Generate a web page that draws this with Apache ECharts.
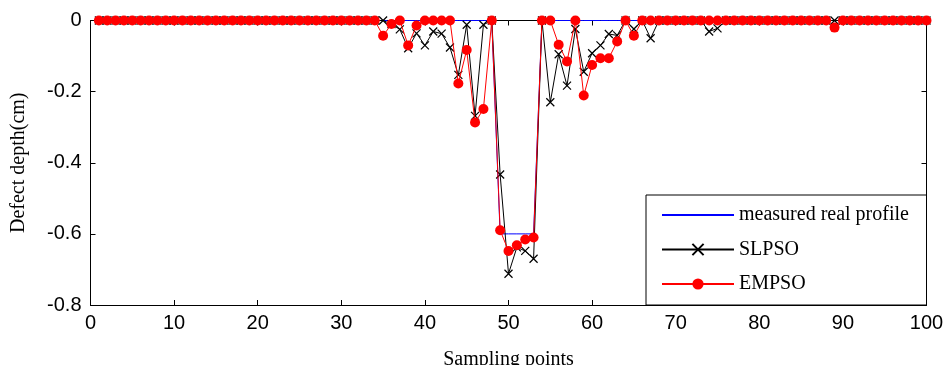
<!DOCTYPE html>
<html>
<head>
<meta charset="utf-8">
<script src="https://cdn.jsdelivr.net/npm/echarts@6/dist/echarts.min.js"></script>
<style>
html,body{margin:0;padding:0;background:#fff;}
#chart{width:947px;height:365px;}
</style>
</head>
<body>
<div id="chart"></div>
<script>
// Sampling points 1..100
var samplingPoints = [
  1,2,3,4,5,6,7,8,9,10,
  11,12,13,14,15,16,17,18,19,20,
  21,22,23,24,25,26,27,28,29,30,
  31,32,33,34,35,36,37,38,39,40,
  41,42,43,44,45,46,47,48,49,50,
  51,52,53,54,55,56,57,58,59,60,
  61,62,63,64,65,66,67,68,69,70,
  71,72,73,74,75,76,77,78,79,80,
  81,82,83,84,85,86,87,88,89,90,
  91,92,93,94,95,96,97,98,99,100
];
var measuredProfile = [
  0,0,0,0,0,0,0,0,0,0,
  0,0,0,0,0,0,0,0,0,0,
  0,0,0,0,0,0,0,0,0,0,
  0,0,0,0,0,0,0,0,0,0,
  0,0,0,0,0,0,0,0,-0.6,-0.6,
  -0.6,-0.6,-0.6,0,0,0,0,0,0,0,
  0,0,0,0,0,0,0,0,0,0,
  0,0,0,0,0,0,0,0,0,0,
  0,0,0,0,0,0,0,0,0,0,
  0,0,0,0,0,0,0,0,0,0
];
var slpso = [
  0,0,0,0,0,0,0,0,0,0,
  0,0,0,0,0,0,0,0,0,0,
  0,0,0,0,0,0,0,0,0,0,
  0,0,0,0,0,-0.01,-0.025,-0.078,-0.036,-0.07,
  -0.031,-0.037,-0.076,-0.153,-0.012,-0.268,-0.012,0,-0.433,-0.712,
  -0.638,-0.648,-0.67,0,-0.23,-0.095,-0.183,-0.024,-0.144,-0.092,
  -0.07,-0.038,-0.042,0,-0.024,0,-0.05,0,0,0,
  0,0,0,-0.031,-0.022,0,0,0,0,0,
  0,0,0,0,0,0,0,0,0,0,
  0,0,0,0,0,0,0,0,0,0
];
var empso = [
  0,0,0,0,0,0,0,0,0,0,
  0,0,0,0,0,0,0,0,0,0,
  0,0,0,0,0,0,0,0,0,0,
  0,0,0,0,-0.043,-0.01,0,-0.07,-0.014,0,
  0,0,0,-0.177,-0.083,-0.287,-0.249,0,-0.59,-0.648,
  -0.632,-0.616,-0.61,0,0,-0.068,-0.115,0,-0.211,-0.125,
  -0.106,-0.106,-0.059,0,-0.043,0,0,0,0,0,
  0,0,0,0,0,0,0,0,0,0,
  0,0,0,0,0,0,0,0,-0.02,0,
  0,0,0,0,0,0,0,0,0,0
];
var seriesNames = ['measured real profile', 'SLPSO', 'EMPSO'];
var xAxisName = 'Sampling points';
var yAxisName = 'Defect depth(cm)';

function pairs(ys){ return samplingPoints.map(function(x,i){ return [x, ys[i]]; }); }

var chart = echarts.init(document.getElementById('chart'), null, {renderer:'canvas'});
var sansFont = '"Liberation Sans", Arial, sans-serif';
var serifFont = '"Liberation Serif", "Times New Roman", serif';
var axisCommon = {
  axisLine:{show:true, onZero:false, lineStyle:{color:'#000', width:1}},
  axisTick:{show:true, inside:true, length:5, lineStyle:{color:'#000', width:1}},
  splitLine:{show:false}
};
chart.setOption({
  animation:false,
  backgroundColor:'#fff',
  grid:{left:90.5, right:20.5, top:20.5, bottom:60, containLabel:false, outerBoundsMode:'none'},
  xAxis:[
    Object.assign({type:'value', min:0, max:100, interval:10, position:'bottom',
      name:xAxisName, nameLocation:'middle', nameGap:45,
      nameTextStyle:{fontFamily:serifFont, fontSize:20, color:'#000'},
      axisLabel:{fontFamily:sansFont, fontSize:20, color:'#000', margin:8}}, axisCommon),
    Object.assign({type:'value', min:0, max:100, interval:10, position:'top',
      axisLabel:{show:false}}, axisCommon)
  ],
  yAxis:[
    Object.assign({type:'value', min:-0.8, max:0, interval:0.2, position:'left',
      name:yAxisName, nameLocation:'middle', nameGap:62, nameRotate:90,
      nameTextStyle:{fontFamily:serifFont, fontSize:20, color:'#000'},
      axisLabel:{fontFamily:sansFont, fontSize:20, color:'#000', margin:9}}, axisCommon),
    Object.assign({type:'value', min:-0.8, max:0, interval:0.2, position:'right',
      axisLabel:{show:false}}, axisCommon)
  ],
  graphic:[{
    type:'rect', z:3, silent:true,
    shape:{x:646, y:195, width:280.5, height:110},
    style:{fill:'#fff', stroke:'#000', lineWidth:1}
  }],
  legend:{
    show:true, orient:'vertical', left:661, top:205, z:5,
    itemWidth:72, itemHeight:14, itemGap:14.5, padding:0,
    data:[
      {name:seriesNames[0], itemStyle:{color:'rgba(0,0,0,0)', borderWidth:0, opacity:0}},
      {name:seriesNames[1]},
      {name:seriesNames[2]}
    ],
    textStyle:{fontFamily:serifFont, fontSize:20, color:'#000', lineHeight:20}
  },
  series:[
    {
      name:seriesNames[0], type:'line', data:pairs(measuredProfile),
      symbol:'none', lineStyle:{color:'#0000ff', width:1},
      itemStyle:{color:'#0000ff'}, z:2
    },
    {
      name:seriesNames[1], type:'line', data:pairs(slpso),
      symbol:'path://M0,0L10,10M10,0L0,10', symbolSize:8,
      lineStyle:{color:'#000', width:1},
      itemStyle:{color:'#000', borderColor:'#000', borderWidth:1.2}, z:3
    },
    {
      name:seriesNames[2], type:'line', data:pairs(empso),
      symbol:'circle', symbolSize:10,
      lineStyle:{color:'#ff0000', width:1},
      itemStyle:{color:'#ff0000'}, z:4
    }
  ]
});
</script>
</body>
</html>
